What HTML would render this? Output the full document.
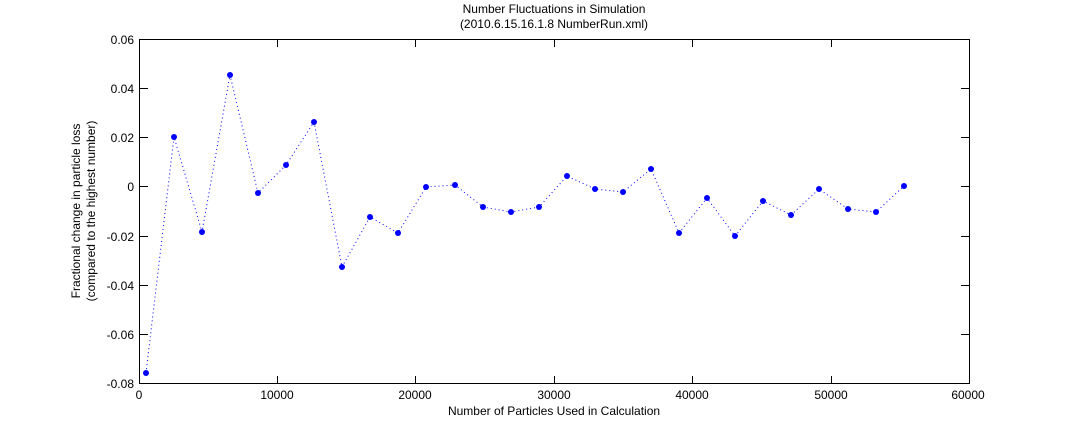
<!DOCTYPE html>
<html><head><style>body{margin:0;background:#fff}svg{display:block}text{font-family:"Liberation Sans",sans-serif;font-size:12px;fill:#000}</style></head><body>
<svg width="1072" height="432" xmlns="http://www.w3.org/2000/svg">
<rect width="1072" height="432" fill="#fff"/>
<rect x="139.5" y="39.5" width="830" height="344" fill="#fff" stroke="#000" stroke-width="1"/>
<g stroke="#000" stroke-width="1">
<line x1="277.5" y1="384" x2="277.5" y2="376"/><line x1="415.5" y1="384" x2="415.5" y2="376"/><line x1="554.5" y1="384" x2="554.5" y2="376"/><line x1="692.5" y1="384" x2="692.5" y2="376"/><line x1="831.5" y1="384" x2="831.5" y2="376"/>
<line x1="277.5" y1="39" x2="277.5" y2="47"/><line x1="415.5" y1="39" x2="415.5" y2="47"/><line x1="554.5" y1="39" x2="554.5" y2="47"/><line x1="692.5" y1="39" x2="692.5" y2="47"/><line x1="831.5" y1="39" x2="831.5" y2="47"/>
<line x1="140" y1="88.5" x2="148" y2="88.5"/><line x1="140" y1="137.5" x2="148" y2="137.5"/><line x1="140" y1="186.5" x2="148" y2="186.5"/><line x1="140" y1="236.5" x2="148" y2="236.5"/><line x1="140" y1="285.5" x2="148" y2="285.5"/><line x1="140" y1="334.5" x2="148" y2="334.5"/>
<line x1="969" y1="88.5" x2="961" y2="88.5"/><line x1="969" y1="137.5" x2="961" y2="137.5"/><line x1="969" y1="186.5" x2="961" y2="186.5"/><line x1="969" y1="236.5" x2="961" y2="236.5"/><line x1="969" y1="285.5" x2="961" y2="285.5"/><line x1="969" y1="334.5" x2="961" y2="334.5"/>
</g>
<g text-anchor="end">
<text x="134" y="44">0.06</text><text x="134" y="93">0.04</text><text x="134" y="142">0.02</text><text x="134" y="191">0</text><text x="134" y="241">-0.02</text><text x="134" y="290">-0.04</text><text x="134" y="339">-0.06</text><text x="134" y="388">-0.08</text>
</g>
<g text-anchor="middle">
<text x="139" y="399">0</text><text x="277" y="399">10000</text><text x="415" y="399">20000</text><text x="554" y="399">30000</text><text x="692" y="399">40000</text><text x="831" y="399">50000</text><text x="968" y="399">60000</text>
<text x="554" y="415">Number of Particles Used in Calculation</text>
<text x="554" y="13">Number Fluctuations in Simulation</text>
<text x="554" y="28">(2010.6.15.16.1.8 NumberRun.xml)</text>
<text transform="translate(80,211) rotate(-90)">Fractional change in particle loss</text>
<text transform="translate(95,211) rotate(-90)">(compared to the highest number)</text>
</g>
<polyline fill="none" stroke="#0000ff" stroke-width="1" stroke-dasharray="1,3" points="146,373 174,137 202,232 230,75 258,193 286,165 314,122 342,267 370,217 398,233 426,187 455,185 483,207 511,212 539,207 567,176 595,189 623,192 651,169 679,233 707,198 735,236 763,201 791,215 819,189 848,209 876,212 904,186"/>
<g fill="#0000ff">
<circle cx="146" cy="373" r="3"/><circle cx="174" cy="137" r="3"/><circle cx="202" cy="232" r="3"/><circle cx="230" cy="75" r="3"/><circle cx="258" cy="193" r="3"/><circle cx="286" cy="165" r="3"/><circle cx="314" cy="122" r="3"/><circle cx="342" cy="267" r="3"/><circle cx="370" cy="217" r="3"/><circle cx="398" cy="233" r="3"/><circle cx="426" cy="187" r="3"/><circle cx="455" cy="185" r="3"/><circle cx="483" cy="207" r="3"/><circle cx="511" cy="212" r="3"/><circle cx="539" cy="207" r="3"/><circle cx="567" cy="176" r="3"/><circle cx="595" cy="189" r="3"/><circle cx="623" cy="192" r="3"/><circle cx="651" cy="169" r="3"/><circle cx="679" cy="233" r="3"/><circle cx="707" cy="198" r="3"/><circle cx="735" cy="236" r="3"/><circle cx="763" cy="201" r="3"/><circle cx="791" cy="215" r="3"/><circle cx="819" cy="189" r="3"/><circle cx="848" cy="209" r="3"/><circle cx="876" cy="212" r="3"/><circle cx="904" cy="186" r="3"/>
</g>
</svg>
</body></html>
